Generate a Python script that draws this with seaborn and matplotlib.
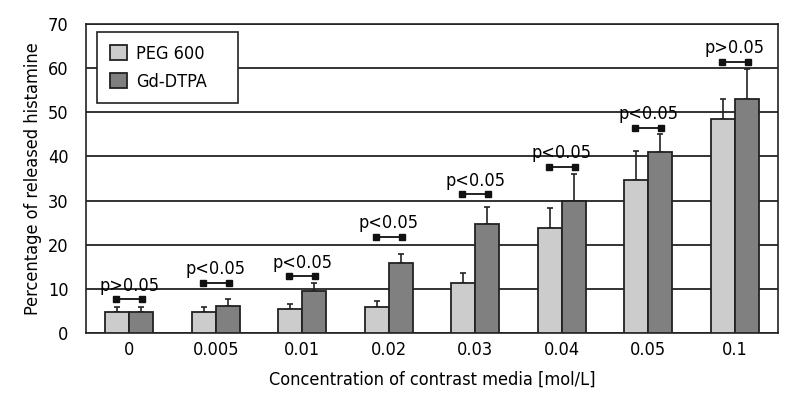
import pandas as pd
import numpy as np
import seaborn as sns
import matplotlib.pyplot as plt

concentrations = ['0', '0.005', '0.01', '0.02', '0.03', '0.04', '0.05', '0.1']
peg_mean = [4.8, 4.8, 5.5, 6.0, 11.4, 23.8, 34.6, 48.4]
peg_err = [1.0, 1.0, 1.0, 1.2, 2.1, 4.5, 6.7, 4.7]
gd_mean = [4.8, 6.2, 9.5, 15.8, 24.7, 29.9, 41.1, 52.9]
gd_err = [1.0, 1.5, 1.8, 2.2, 3.9, 6.1, 3.9, 6.8]
p_labels = ['p>0.05', 'p<0.05', 'p<0.05', 'p<0.05', 'p<0.05', 'p<0.05', 'p<0.05', 'p>0.05']
p_heights = [7.6, 11.3, 12.8, 21.8, 31.4, 37.7, 46.5, 61.5]

df = pd.DataFrame({
    'conc': concentrations * 2,
    'value': peg_mean + gd_mean,
    'group': ['PEG 600'] * 8 + ['Gd-DTPA'] * 8,
})

sns.set_style('white')
plt.rcParams['font.family'] = ['DejaVu Sans']
plt.rcParams['font.stretch'] = 'condensed'
plt.rcParams['text.color'] = 'black'
plt.rcParams['axes.labelcolor'] = 'black'
plt.rcParams['xtick.color'] = 'black'
plt.rcParams['ytick.color'] = 'black'

fig = plt.figure(figsize=(8, 4), dpi=100)
ax = fig.add_axes([0.1075, 0.1675, 0.865, 0.7725])

palette = {'PEG 600': '#cccccc', 'Gd-DTPA': '#808080'}
sns.barplot(data=df, x='conc', y='value', hue='group', palette=palette,
            width=0.56, edgecolor='#222222', linewidth=1.3, errorbar=None,
            saturation=1, ax=ax, zorder=3)

# error bars, upper side only
for bar, e in zip(ax.patches[:16], peg_err + gd_err):
    xc = bar.get_x() + bar.get_width() / 2
    h = bar.get_height()
    ax.errorbar(xc, h, yerr=[[0], [e]], fmt='none', ecolor='#222222',
                elinewidth=1.2, capsize=2.5, capthick=1.2, zorder=2)

# significance brackets
for i, (lab, yh) in enumerate(zip(p_labels, p_heights)):
    ax.plot([i - 0.15, i + 0.15], [yh, yh], color='#111111', lw=1.3,
            marker='s', markersize=4, zorder=4)
    ax.text(i, yh + 1.1, lab, ha='center', va='bottom', fontsize=13, zorder=4)

ax.set_ylim(0, 70)
ax.set_xlim(-0.5, 7.5)
ax.set_yticks(range(0, 71, 10))
ax.set_xticks(np.arange(-0.5, 8, 1), minor=False)
ax.set_xticklabels([''] * 9)
ax.set_xticks(range(8), minor=True)
ax.set_xticklabels(concentrations, minor=True)
ax.tick_params(axis='x', which='major', direction='out', length=8, width=1.2, color='#222222')
ax.tick_params(axis='x', which='minor', length=0, labelsize=13, pad=6)
ax.tick_params(axis='y', direction='out', length=9, width=1.2, color='#222222', labelsize=13)
ax.set_axisbelow(True)
ax.yaxis.grid(True, color='#111111', linewidth=1.2)
for s in ax.spines.values():
    s.set_color('#222222')
    s.set_linewidth(1.2)

ax.set_xlabel('Concentration of contrast media [mol/L]', fontsize=13, labelpad=8)
ax.set_ylabel('Percentage of released histamine', fontsize=13)

leg = ax.legend(loc='upper left', bbox_to_anchor=(0.016, 0.0, 0.204, 0.974),
                mode='expand', fontsize=13, frameon=True, fancybox=False,
                borderpad=0.7, handlelength=0.95, handleheight=0.9,
                handletextpad=0.5, labelspacing=0.55, borderaxespad=0)
leg.get_frame().set_edgecolor('#222222')
leg.get_frame().set_linewidth(1.2)
leg.get_frame().set_alpha(1)
leg.set_zorder(5)
for h in leg.legend_handles:
    h.set_edgecolor('#222222')

fig.savefig('out.png', dpi=100)
